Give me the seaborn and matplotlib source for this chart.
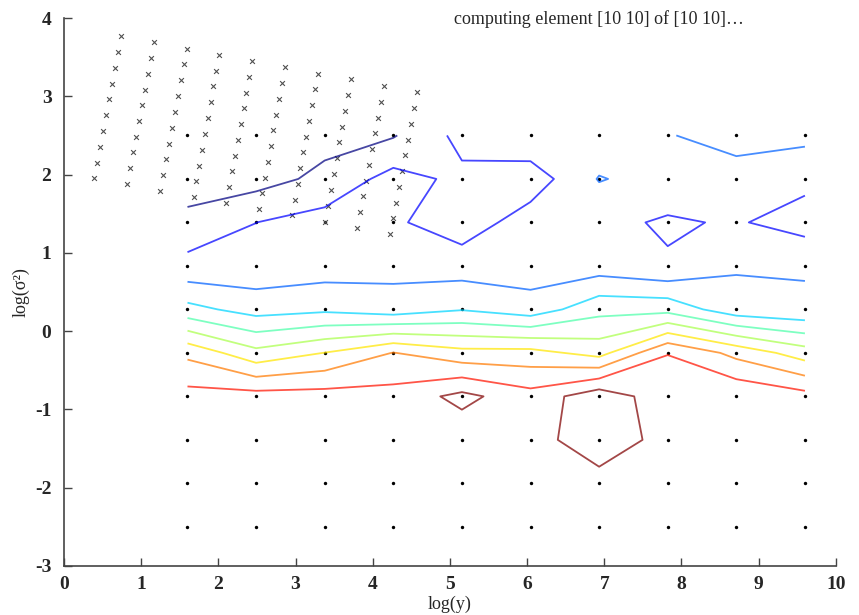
import numpy as np
import pandas as pd
import matplotlib
matplotlib.use("Agg")
import matplotlib.pyplot as plt
import seaborn as sns

# grid where the likelihood was evaluated
log_y = np.linspace(1.6, 9.6, 10)
log_s2 = np.linspace(-2.5, 2.5, 10)

# surface values, rows from log(s2)=-2.5 (bottom) to 2.5 (top)
z_rows = [
    [9.62, 9.65, 9.61, 9.64, 9.60, 9.63, 9.62, 9.66, 9.61, 9.64],
    [9.64, 9.60, 9.66, 9.62, 9.65, 9.61, 9.69, 9.63, 9.60, 9.62],
    [9.60, 9.62, 9.58, 9.61, 9.34, 9.67, 10.50, 9.71, 9.63, 9.60],
    [9.37, 9.40, 9.41, 9.37, 10.29, 9.37, 10.65, 9.38, 9.85, 9.37],
    [7.75, 6.29, 7.02, 8.03, 7.33, 7.35, 6.63, 8.98, 7.70, 6.49],
    [4.32, 3.59, 3.80, 3.44, 3.94, 3.41, 4.68, 4.66, 3.38, 3.17],
    [2.24, 2.32, 2.51, 2.69, 2.52, 2.50, 2.50, 2.10, 2.90, 2.91],
    [1.48, 1.995, 2.40, 2.15, 1.45, 2.49, 2.25, 1.88, 2.10, 1.55],
    [0.13, 0.60, 1.25, 2.37, 1.78, 1.45, 3.06, 2.60, 2.23, 2.28],
    [-0.30, 0.10, 0.66, 0.92, 2.30, 2.80, 2.28, 2.90, 3.70, 3.25],
]
levels = [1, 2, 3, 4, 5, 6, 7, 8, 9, 10]

# sheared lattice of candidate points (x marks), top and bottom of each column
cross_top_x = [0.74, 1.16, 1.59, 2.01, 2.44, 2.86, 3.29, 3.72, 4.14, 4.57]
cross_top_y = [3.77, 3.69, 3.61, 3.53, 3.45, 3.37, 3.29, 3.22, 3.13, 3.05]
cross_bot_x = [0.39, 0.82, 1.25, 1.68, 2.10, 2.53, 2.95, 3.38, 3.80, 4.23]
cross_bot_y = [1.95, 1.88, 1.79, 1.71, 1.64, 1.56, 1.48, 1.40, 1.32, 1.24]

status_text = "computing element [10 10] of [10 10]\u2026"

sns.set_style("ticks")
plt.rcParams["font.family"] = ["Liberation Serif", "DejaVu Serif"]
plt.rcParams["axes.unicode_minus"] = False

gx, gy = np.meshgrid(log_y, log_s2)
grid_df = pd.DataFrame({"x": gx.ravel(), "y": gy.ravel()})

cx = np.concatenate([np.linspace(t, b, 10) for t, b in zip(cross_top_x, cross_bot_x)])
cy = np.concatenate([np.linspace(t, b, 10) for t, b in zip(cross_top_y, cross_bot_y)])
cross_df = pd.DataFrame({"x": cx, "y": cy})

fig = plt.figure(figsize=(8.59, 6.15), dpi=100)
ax = fig.add_axes([0.0745, 0.0797, 0.8985, 0.891])

ax.contour(log_y, log_s2, np.array(z_rows), levels=levels, cmap="jet",
           vmin=1, vmax=10, linewidths=1.3, alpha=0.72)

sns.scatterplot(data=grid_df, x="x", y="y", ax=ax, color="black", s=6,
                marker="o", edgecolor="black", linewidth=0, legend=False)
sns.scatterplot(data=cross_df, x="x", y="y", ax=ax, color="#505050", s=12,
                marker="x", linewidth=0.8, legend=False)

ax.text(5.05, 3.99, status_text, fontsize=13, ha="left", va="center")

ax.set_xlim(0, 10)
ax.set_ylim(-3, 4)
ax.set_xticks(range(0, 11))
ax.set_yticks(range(-3, 5))
ax.tick_params(direction="in", length=6, width=1, color="#444444",
               labelsize=14, pad=7)
ax.tick_params(axis="y", pad=9)
for lbl in ax.get_xticklabels() + ax.get_yticklabels():
    lbl.set_fontweight("bold")
ax.set_xlabel("log(y)", fontsize=13, labelpad=2)
ax.set_ylabel("log(\u03c3\u00b2)", fontsize=13, labelpad=4)

sns.despine(ax=ax)
for side in ["left", "bottom"]:
    ax.spines[side].set_color("#444444")
    ax.spines[side].set_linewidth(1.2)

fig.savefig("out.png", dpi=100)
